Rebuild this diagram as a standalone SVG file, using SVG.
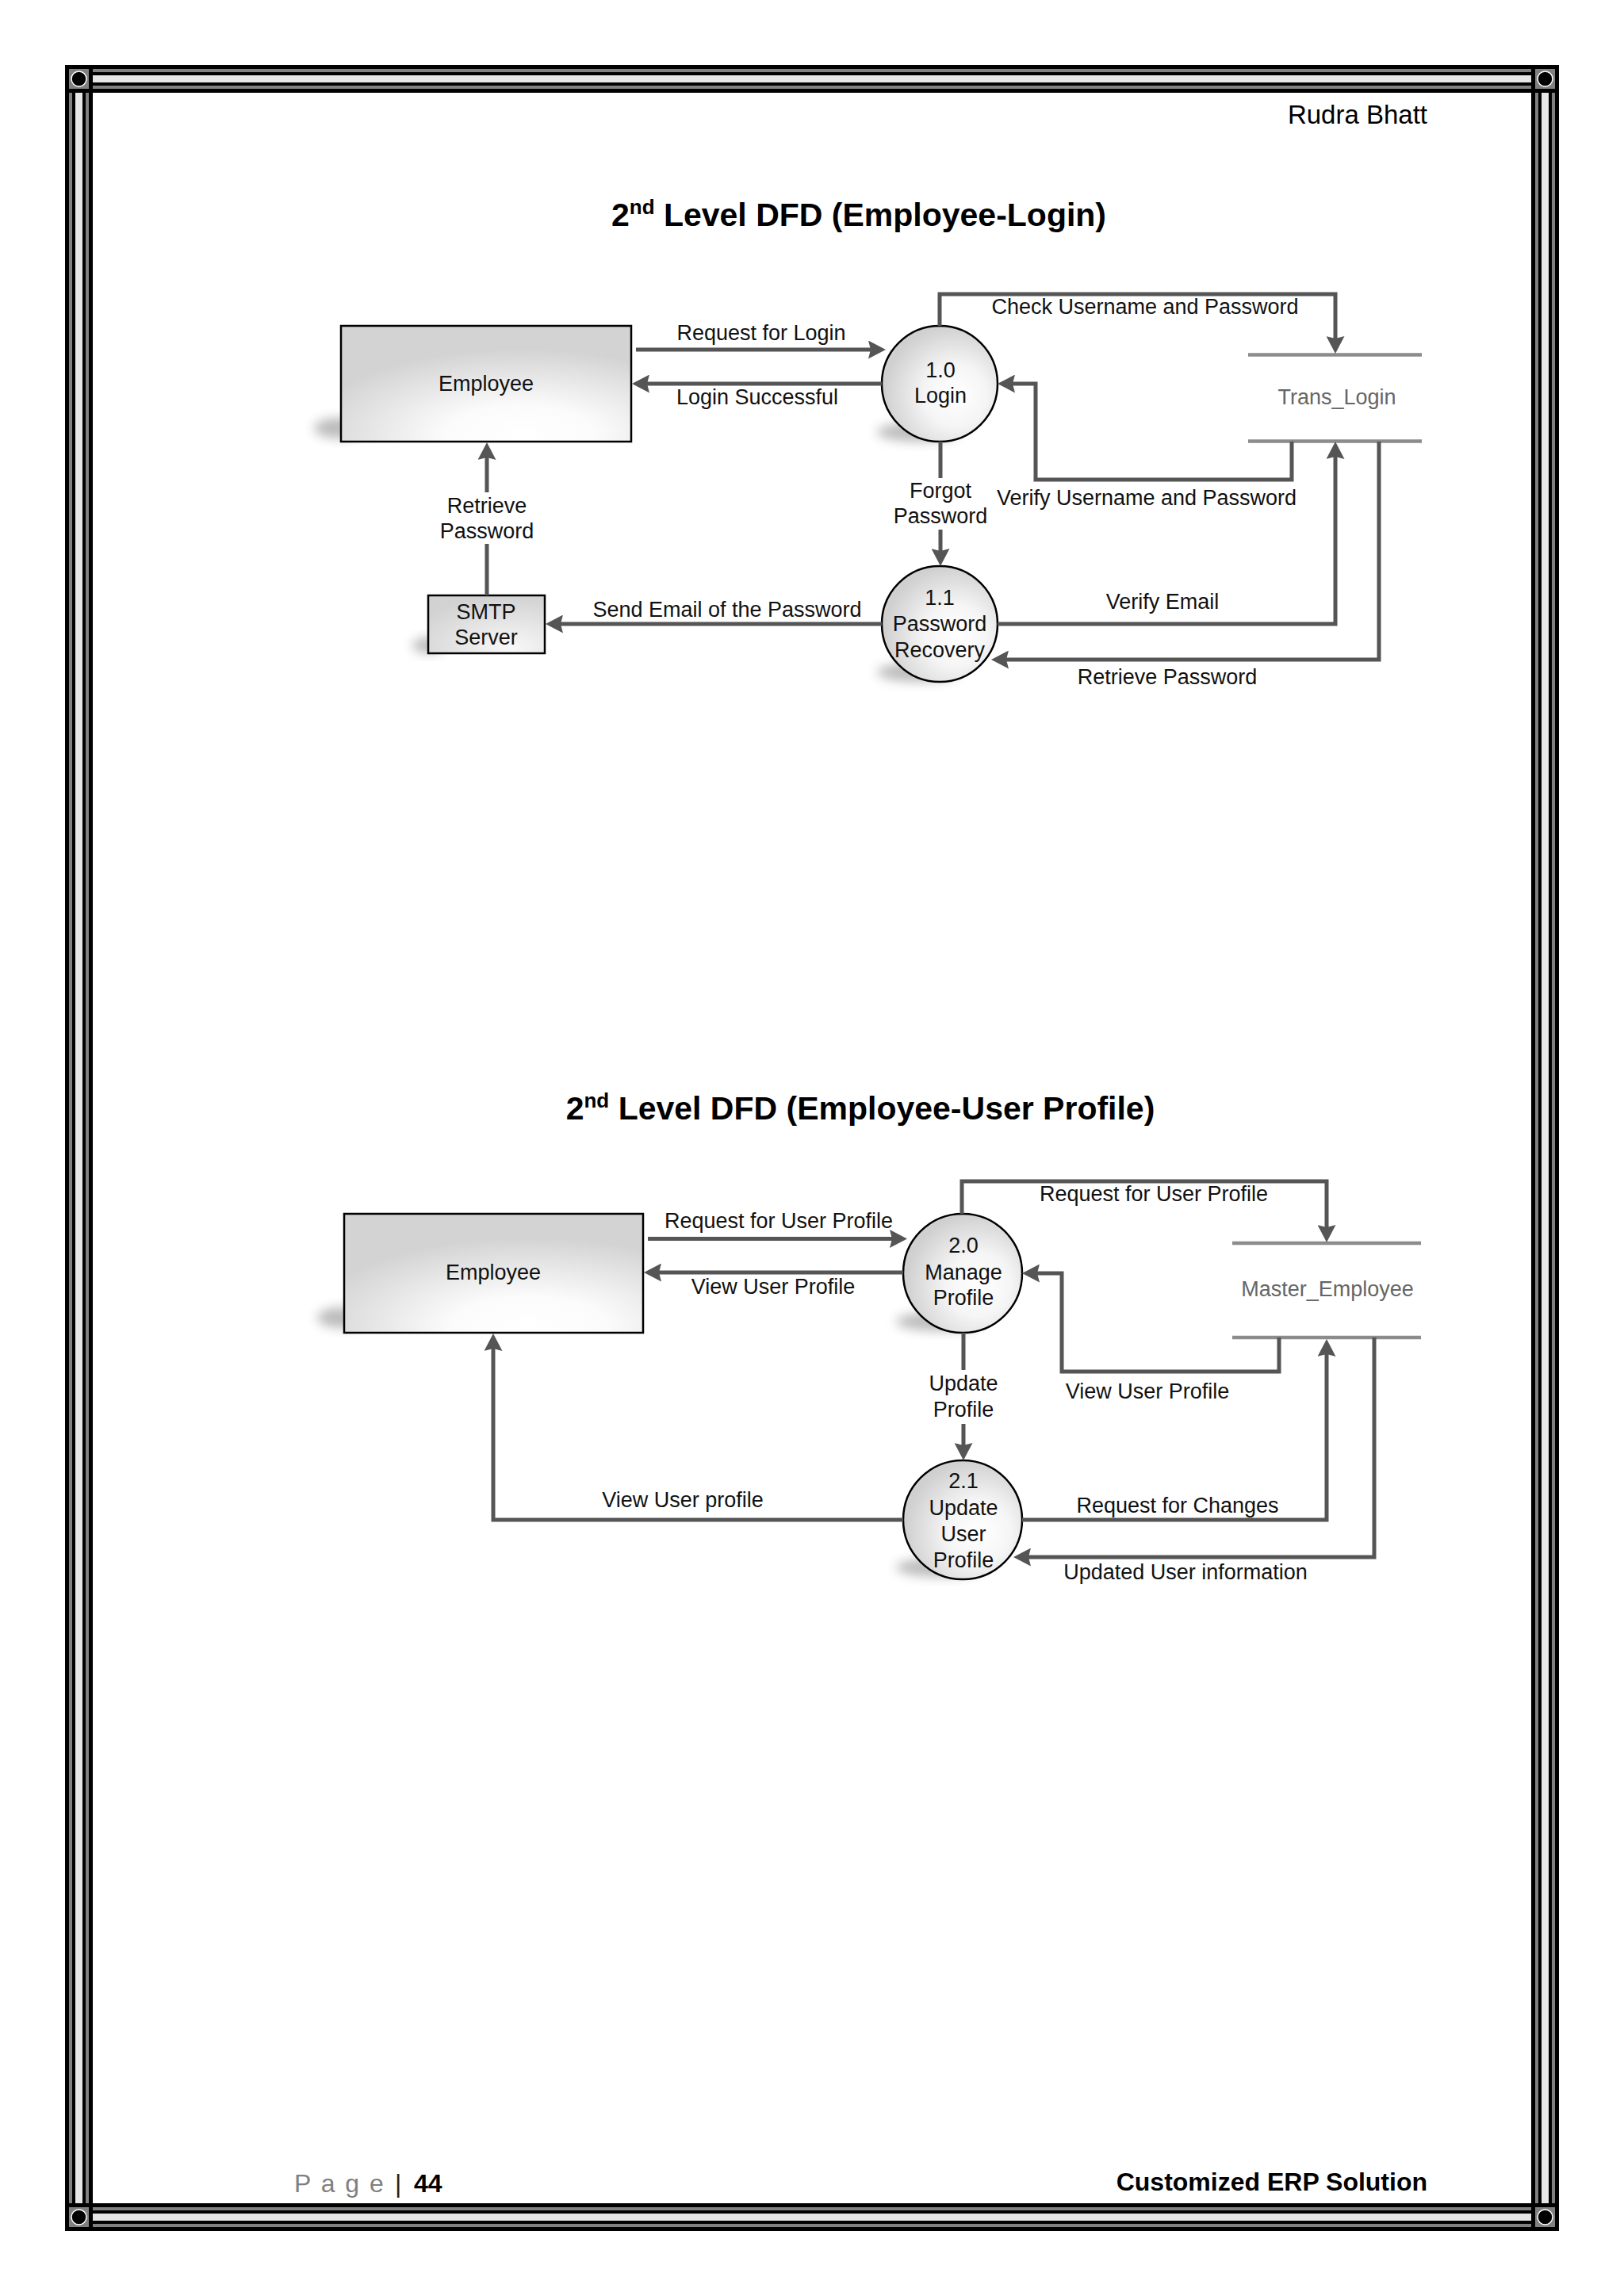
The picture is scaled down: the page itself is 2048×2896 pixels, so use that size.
<svg xmlns="http://www.w3.org/2000/svg" width="2048" height="2896" viewBox="0 0 2048 2896">
<defs>
<style>
.t{font-family:"Liberation Sans",Arial,sans-serif;font-size:27px;fill:#111;text-anchor:middle}
.ds{font-family:"Liberation Sans",Arial,sans-serif;font-size:27px;fill:#666;text-anchor:middle}
.title{font-family:"Liberation Sans",Arial,sans-serif;font-size:41px;font-weight:bold;fill:#000;text-anchor:middle}
.flow{fill:none;stroke:#555;stroke-width:5;marker-end:url(#arr)}
.store{stroke:#8c8c8c;stroke-width:4.5}
.box{stroke:#000;stroke-width:2.5}
.shadow{fill:#6a6a6a;opacity:.45;filter:url(#blur)}
.cornerSq{fill:#000}
.cornerIn{fill:#808080}
.cornerC{fill:#000;stroke:#fff;stroke-width:1.5}
.hdr{font-family:"Liberation Sans",Arial,sans-serif;font-size:33px;fill:#000}
.foot{font-family:"Liberation Sans",Arial,sans-serif;font-size:32px}
</style>
<marker id="arr" markerUnits="userSpaceOnUse" viewBox="0 0 22 23" markerWidth="22" markerHeight="23" refX="11" refY="11.5" orient="auto"><path d="M0,0 L22,11.5 L0,23 L3,11.5 z" fill="#555"/></marker>
<filter id="blur" x="-50%" y="-50%" width="200%" height="200%"><feGaussianBlur stdDeviation="7"/></filter>
<radialGradient id="gBox" cx="0.62" cy="0.95" r="0.75" fx="0.62" fy="0.95"><stop offset="0" stop-color="#ffffff"/><stop offset="0.35" stop-color="#fbfbfb"/><stop offset="1" stop-color="#d3d3d3"/></radialGradient>
<radialGradient id="gCirc" cx="0.62" cy="0.6" r="0.6" fx="0.65" fy="0.6"><stop offset="0" stop-color="#ffffff"/><stop offset="0.45" stop-color="#f5f5f5"/><stop offset="1" stop-color="#d0d0d0"/></radialGradient>
<radialGradient id="gSmtp" cx="0.7" cy="0.9" r="0.9"><stop offset="0" stop-color="#f8f8f8"/><stop offset="1" stop-color="#d2d2d2"/></radialGradient>
</defs>

<rect width="2048" height="2896" fill="#fff"/>

<g id="page-border">
<rect x="82" y="82" width="1884" height="2732" fill="#000"/>
<rect x="87" y="87" width="1874" height="2722" fill="#808080"/>
<rect x="91" y="91" width="1866" height="2714" fill="#000"/>
<rect x="95" y="95" width="1858" height="2706" fill="#e6e6e6"/>
<rect x="104" y="104" width="1840" height="2688" fill="#000"/>
<rect x="108" y="108" width="1832" height="2680" fill="#808080"/>
<rect x="112" y="112" width="1824" height="2672" fill="#000"/>
<rect x="117" y="117" width="1814" height="2662" fill="#fff"/>
<rect class="cornerSq" x="82" y="82" width="35" height="35"/><rect class="cornerIn" x="87" y="87" width="25" height="25"/><circle class="cornerC" cx="99.5" cy="99.5" r="9.5"/>
<rect class="cornerSq" x="1931" y="82" width="35" height="35"/><rect class="cornerIn" x="1936" y="87" width="25" height="25"/><circle class="cornerC" cx="1948.5" cy="99.5" r="9.5"/>
<rect class="cornerSq" x="82" y="2779" width="35" height="35"/><rect class="cornerIn" x="87" y="2784" width="25" height="25"/><circle class="cornerC" cx="99.5" cy="2796.5" r="9.5"/>
<rect class="cornerSq" x="1931" y="2779" width="35" height="35"/><rect class="cornerIn" x="1936" y="2784" width="25" height="25"/><circle class="cornerC" cx="1948.5" cy="2796.5" r="9.5"/>
</g>

<g id="header"><text class="hdr" x="1800" y="156" text-anchor="end">Rudra Bhatt</text></g>

<g id="titles">
<text class="title" x="1083" y="285">2<tspan font-size="26" baseline-shift="super">nd</tspan> Level DFD (Employee-Login)</text>
<text class="title" x="1085" y="1412">2<tspan font-size="26" baseline-shift="super">nd</tspan> Level DFD (Employee-User Profile)</text>
</g>

<!-- Diagram 1 nodes -->
<g id="d1-employee">
<ellipse class="shadow" cx="428" cy="540" rx="32" ry="13"/>
<rect class="box" x="430" y="411" width="366" height="146" fill="url(#gBox)"/>
<text class="t" x="613" y="493">Employee</text>
</g>
<g id="d1-smtp">
<ellipse class="shadow" cx="540" cy="814" rx="20" ry="10"/>
<rect class="box" x="540" y="751" width="147" height="73" fill="url(#gSmtp)"/>
<text class="t" x="613" y="781">SMTP</text>
<text class="t" x="613" y="813">Server</text>
</g>
<g id="d1-p1-0">
<ellipse class="shadow" cx="1158" cy="545" rx="52" ry="12"/>
<circle class="box" cx="1185" cy="484" r="73" fill="url(#gCirc)"/>
<text class="t" x="1186" y="476">1.0</text>
<text class="t" x="1186" y="508">Login</text>
</g>
<g id="d1-p1-1">
<ellipse class="shadow" cx="1158" cy="848" rx="52" ry="12"/>
<circle class="box" cx="1185" cy="787" r="73" fill="url(#gCirc)"/>
<text class="t" x="1185" y="763">1.1</text>
<text class="t" x="1185" y="796">Password</text>
<text class="t" x="1185" y="829">Recovery</text>
</g>
<g id="d1-trans-login">
<line class="store" x1="1574" y1="447.5" x2="1793" y2="447.5"/>
<line class="store" x1="1574" y1="556.5" x2="1793" y2="556.5"/>
<text class="ds" x="1686" y="510">Trans_Login</text>
</g>

<!-- Diagram 2 nodes -->
<g id="d2-employee">
<ellipse class="shadow" cx="432" cy="1662" rx="32" ry="13"/>
<rect class="box" x="434" y="1531" width="377" height="150" fill="url(#gBox)"/>
<text class="t" x="622" y="1614">Employee</text>
</g>
<g id="d2-p2-0">
<ellipse class="shadow" cx="1185" cy="1667" rx="55" ry="12"/>
<circle class="box" cx="1214" cy="1606" r="75" fill="url(#gCirc)"/>
<text class="t" x="1215" y="1580">2.0</text>
<text class="t" x="1215" y="1614">Manage</text>
<text class="t" x="1215" y="1646">Profile</text>
</g>
<g id="d2-p2-1">
<ellipse class="shadow" cx="1185" cy="1977" rx="55" ry="12"/>
<circle class="box" cx="1214" cy="1917" r="75" fill="url(#gCirc)"/>
<text class="t" x="1215" y="1877">2.1</text>
<text class="t" x="1215" y="1911">Update</text>
<text class="t" x="1215" y="1944">User</text>
<text class="t" x="1215" y="1977">Profile</text>
</g>
<g id="d2-master-employee">
<line class="store" x1="1554" y1="1568" x2="1792" y2="1568"/>
<line class="store" x1="1554" y1="1687" x2="1792" y2="1687"/>
<text class="ds" x="1674" y="1635">Master_Employee</text>
</g>

<g id="connectors">
<path class="flow" d="M802,441 H1106"/>
<path class="flow" d="M1112,484 H808"/>
<path class="flow" d="M614,751 V686 M614,621 V569"/>
<path class="flow" d="M1112,787 H699"/>
<path class="flow" d="M1185,411 V371 H1684 V435"/>
<path class="flow" d="M1629,557 V605 H1306 V484 H1269"/>
<path class="flow" d="M1186,557 V603 M1186,668 V703"/>
<path class="flow" d="M1258,787 H1684 V568"/>
<path class="flow" d="M1739,557 V832 H1261"/>

<path class="flow" d="M817,1562.5 H1133"/>
<path class="flow" d="M1139,1605 H823"/>
<path class="flow" d="M1139,1917 H622 V1693"/>
<path class="flow" d="M1213,1531 V1490 H1673 V1556"/>
<path class="flow" d="M1613,1687 V1730 H1339 V1606 H1300"/>
<path class="flow" d="M1215,1681 V1728 M1215,1796 V1831"/>
<path class="flow" d="M1289,1917 H1673 V1700"/>
<path class="flow" d="M1733,1687 V1964 H1289"/>
</g>

<g id="connector-labels">
<text class="t" x="960" y="429">Request for Login</text>
<text class="t" x="955" y="510">Login Successful</text>
<text class="t" x="614" y="647">Retrieve</text>
<text class="t" x="614" y="679">Password</text>
<text class="t" x="917" y="778">Send Email of the Password</text>
<text class="t" x="1444" y="396">Check Username and Password</text>
<text class="t" x="1446" y="637">Verify Username and Password</text>
<text class="t" x="1186" y="628">Forgot</text>
<text class="t" x="1186" y="660">Password</text>
<text class="t" x="1466" y="768">Verify Email</text>
<text class="t" x="1472" y="863">Retrieve Password</text>

<text class="t" x="982" y="1549">Request for User Profile</text>
<text class="t" x="975" y="1632">View User Profile</text>
<text class="t" x="861" y="1901">View User profile</text>
<text class="t" x="1455" y="1515">Request for User Profile</text>
<text class="t" x="1447" y="1764">View User Profile</text>
<text class="t" x="1215" y="1754">Update</text>
<text class="t" x="1215" y="1787">Profile</text>
<text class="t" x="1485" y="1908">Request for Changes</text>
<text class="t" x="1495" y="1992">Updated User information</text>
</g>

<g id="footer">
<text class="foot" x="371" y="2765" fill="#7f7f7f" letter-spacing="2">P a g e</text>
<text class="foot" x="498" y="2765" fill="#222">|</text>
<text class="foot" x="522" y="2765" fill="#000" font-weight="bold">44</text>
<text class="foot" x="1800" y="2763" fill="#000" font-weight="bold" text-anchor="end">Customized ERP Solution</text>
</g>
</svg>
